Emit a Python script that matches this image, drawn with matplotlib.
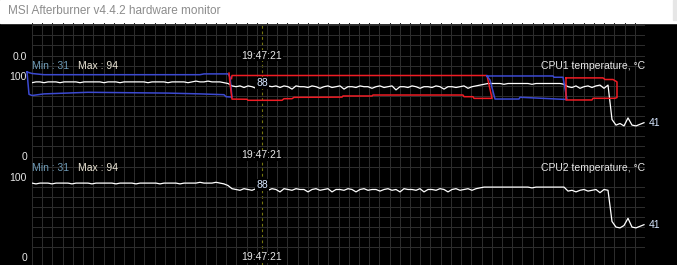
import numpy as np
import matplotlib.pyplot as plt
from matplotlib.patches import Rectangle

plt.rcParams['font.family'] = ['Liberation Sans', 'DejaVu Sans']

# window title and cursor
title = "MSI Afterburner v4.4.2 hardware monitor"
cursor_time = "19:47:21"
cursor_x = 230      # seconds from left edge of graph
sample_step = 4     # seconds between stored samples

panel_names = ["CPU1 temperature, \u00b0C", "CPU2 temperature, \u00b0C"]
min_vals = [31, 31]
max_vals = [94, 94]
cursor_vals = [88, 88]

# temperature samples, one every 4 s
cpu1_temp = [91, 92, 92, 91, 92, 92, 92, 91, 92, 92,
             92, 92, 91, 92, 92, 92, 92, 92, 91, 92,
             92, 92, 91, 92, 92, 92, 92, 92, 92, 91,
             92, 92, 92, 92, 91, 92, 92, 92, 92, 91,
             92, 93, 92, 92, 93, 92, 92, 92, 91, 90,
             87, 86, 87, 85, 87, 86, 84, 87, 86, 87,
             86, 87, 85, 87, 86, 83, 87, 86, 86, 85,
             87, 86, 84, 86, 87, 85, 86, 87, 83, 86,
             86, 85, 87, 86, 86, 84, 86, 87, 85, 86,
             87, 82, 86, 86, 85, 87, 86, 84, 86, 86,
             85, 87, 86, 83, 86, 86, 85, 86, 87, 84,
             86, 87, 88, 89, 90, 90, 90, 90, 89, 90,
             90, 90, 90, 90, 90, 89, 90, 90, 90, 90,
             90, 90, 90, 89, 86, 85, 87, 84, 86, 87,
             85, 87, 88, 84, 88, 45, 38, 40, 37, 47,
             38, 37, 39, 41]

cpu2_temp = [93, 92, 93, 93, 93, 92, 93, 93, 93, 93,
             92, 93, 93, 93, 93, 92, 93, 93, 93, 93,
             93, 92, 93, 93, 93, 93, 92, 93, 93, 93,
             93, 93, 92, 93, 93, 93, 93, 92, 93, 93,
             93, 93, 94, 93, 93, 93, 94, 93, 92, 90,
             86, 85, 84, 86, 85, 84, 86, 85, 85, 84,
             86, 85, 82, 86, 85, 84, 86, 85, 85, 82,
             85, 86, 84, 85, 86, 82, 85, 85, 84, 86,
             85, 82, 85, 86, 84, 85, 85, 83, 85, 86,
             84, 85, 82, 86, 85, 85, 84, 86, 82, 85,
             85, 84, 86, 85, 82, 85, 86, 84, 85, 86,
             84, 86, 87, 88, 88, 88, 88, 88, 88, 88,
             88, 88, 88, 88, 88, 87, 88, 88, 88, 88,
             88, 88, 88, 88, 83, 84, 82, 84, 85, 83,
             84, 85, 81, 85, 84, 45, 38, 37, 40, 49,
             38, 37, 39, 41]

# hand drawn outlines on the CPU1 graph (seconds, degC)
blue_box1 = [(-5, 104.4), (0, 102.5), (12, 101), (168, 101), (172, 102), (196, 102),
             (198, 98), (200, 73), (194, 73.5), (192, 76), (168, 77), (136, 78),
             (56, 79), (12, 77), (0, 75), (-3, 76.5), (-5, 104.4)]
red_box1 = [(197, 103), (198, 90), (200, 70.5), (215, 70.3), (216, 69), (250, 69),
            (252, 71), (260, 71), (262, 72.7), (310, 73), (311, 74.4), (340, 74.4),
            (341, 75.6), (431, 75.6), (432, 73.5), (441, 73.5), (442, 71.4), (460, 71.4),
            (455, 100), (200, 100), (199.5, 96)]
blue_box2 = [(455, 99.4), (521, 99.4), (522, 97.8), (531, 97.8), (535, 70), (488, 72.8),
             (487, 70.6), (463, 70.6), (458, 94.4), (455, 99.4)]
red_box2 = [(534, 97), (571, 97), (573, 95), (581, 95), (585, 92), (585, 72.5),
            (583, 71.5), (561, 71.5), (560, 69.4), (534, 69.4), (534, 97)]

W, H = 677, 265
fig = plt.figure(figsize=(W / 100, H / 100), dpi=100, facecolor='black')

# title bar
fig.add_artist(Rectangle((0, 1 - 23 / H), 1, 23 / H, transform=fig.transFigure,
                         color='white', zorder=0))
fig.add_artist(Rectangle((673 / W, 1 - 20 / H), 4 / W, 20 / H, transform=fig.transFigure,
                         color='#e6e6e6', zorder=1))
fig.text(8 / W, 1 - 10.5 / H, title, color='#8c8c8c', fontsize=8.5, va='center')


def px_axes(left, top, right, bottom):
    return fig.add_axes([left / W, 1 - bottom / H, (right - left) / W, (bottom - top) / H])


grid_col = '#2c2c2c'
txt_col = '#e8e8e8'
val_col = '#d6e6ff'
xmax = 613


def setup(ax, ylo, yhi, major, labels, z):
    ax.patch.set_visible(False)
    ax.set_zorder(z)
    for s in ax.spines.values():
        s.set_visible(False)
    ax.set_xticks(np.linspace(0, xmax, 61), minor=True)
    ax.set_xticks([])
    ax.set_yticks(np.arange(-12.5, yhi + 0.1, 12.5), minor=True)
    ax.set_yticks(major)
    ax.set_yticklabels(labels, color=txt_col, fontsize=7.5)
    ax.tick_params(which='both', length=0, pad=3.6)
    ax.grid(which='minor', color=grid_col, lw=0.75)
    ax.axvline(cursor_x, color='#76760e', ls=(0, (2.5, 2.5)), lw=0.8, zorder=1)
    # limits last, ticks outside would widen them
    ax.set_xlim(0, xmax)
    ax.set_ylim(ylo, yhi)


def time_label(ax):
    ax.annotate(cursor_time, xy=(cursor_x, 0), ha='center', va='center', color=txt_col,
                fontsize=7.5, annotation_clip=False, zorder=5,
                bbox=dict(facecolor='black', edgecolor='none', pad=0.5))


# previous graph (scrolled), only its bottom is visible
ax0 = px_axes(32, 23, 645, 55.5)
setup(ax0, 0, 40.6, [0], ["0.0"], 3)
time_label(ax0)

ax1 = px_axes(32, 55.5, 645, 155.5)
setup(ax1, 0, 125, [0, 100], ["0", "100"], 2)
ax2 = px_axes(32, 155.5, 645, 265)
setup(ax2, -9.4, 127.5, [0, 100], ["0", "100"], 1)

for ax, temp, name, vmin, vmax, vcur in zip([ax1, ax2], [cpu1_temp, cpu2_temp], panel_names,
                                            min_vals, max_vals, cursor_vals):
    times = np.arange(len(temp)) * sample_step
    ax.plot(times, temp, color='white', lw=0.9, zorder=3)
    time_label(ax)
    # header row
    t_min = ax.text(0, 112, "Min : %d" % vmin, color='#6f9cb8', fontsize=7.5, va='center')
    ax.annotate("Max : %d" % vmax, xy=(1, 0.5), xycoords=t_min, xytext=(9, 0),
                textcoords='offset pixels', va='center', color='#ece6d6', fontsize=7.5)
    ax.text(xmax, 112, name, color=txt_col, fontsize=7.5, va='center', ha='right')
    # cursor value and current value
    ax.annotate(str(vcur), xy=(cursor_x, vcur), xytext=(0, 2), textcoords='offset pixels',
                ha='center', va='center', color=val_col, fontsize=7.5, zorder=6,
                bbox=dict(facecolor='black', edgecolor='none', pad=0.8))
    ax.annotate(str(temp[-1]), xy=(times[-1], temp[-1]), xytext=(5, 0),
                textcoords='offset pixels', ha='left', va='center', color=val_col,
                fontsize=7.5, annotation_clip=False)

for box, col in [(blue_box1, '#3c4ad2'), (red_box1, '#f01c24'),
                 (blue_box2, '#3c4ad2'), (red_box2, '#f01c24')]:
    bx, by = zip(*box)
    ax1.plot(bx, by, color=col, lw=1.1, zorder=4, clip_on=False)

fig.savefig("out.png", dpi=100, facecolor='black')
